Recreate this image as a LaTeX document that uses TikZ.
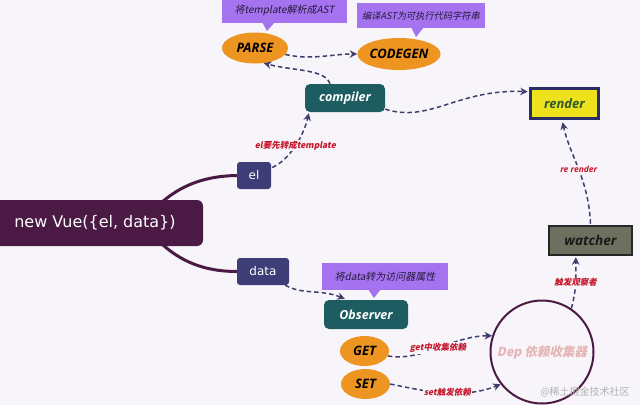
\documentclass[tikz,border=0pt]{standalone}
\usepackage{fontspec}
\setmainfont{Open Sans}
\newfontfamily\cjk[FakeSlant=0.2]{Noto Sans CJK SC}
\newfontfamily\cjkup{Noto Sans CJK SC}
\newfontfamily\vuefont{DejaVu Sans}
\usetikzlibrary{arrows.meta,shapes.geometric,calc}
\definecolor{bgc}{HTML}{F8F5FA}
\definecolor{plum}{HTML}{4A1A44}
\definecolor{slate}{HTML}{3D3D78}
\definecolor{tealc}{HTML}{1D5C60}
\definecolor{orangec}{HTML}{EE9420}
\definecolor{callc}{HTML}{A673F0}
\definecolor{yellowc}{HTML}{EDE21C}
\definecolor{navyc}{HTML}{2B2D66}
\definecolor{watchc}{HTML}{6E705F}
\definecolor{arrowc}{HTML}{3B3D6B}
\definecolor{redc}{HTML}{C4162A}
\definecolor{depc}{HTML}{E6B5B5}
\definecolor{greenc}{HTML}{2F5A2A}
\definecolor{calltext}{HTML}{221A38}
\begin{document}
\begin{tikzpicture}[x=1pt,y=-1pt,
  tag/.style={rectangle, rounded corners=3pt, fill=slate, text=white, inner sep=0pt,
    font=\vuefont\fontsize{12}{14}\selectfont, minimum height=27pt},
  pill/.style={rectangle, rounded corners=5pt, fill=tealc, text=white, inner sep=0pt,
    font=\bfseries\itshape\fontsize{12.5}{14}\selectfont},
  ell/.style={ellipse, fill=orangec, text=black, inner sep=0pt,
    font=\bfseries\itshape\fontsize{13}{15}\selectfont},
  callbox/.style={rectangle, fill=callc, text=calltext, inner sep=0pt,
    font=\cjk\fontsize{10}{12}\selectfont},
  lbl/.style={fill=bgc, inner sep=1pt, text=redc, font=\cjk\bfseries\fontsize{8.5}{10}\selectfont},
  darrow/.style={draw=arrowc, line width=1.5pt, dash pattern=on 4.5pt off 3pt,
    -{Stealth[length=7.5pt,width=7.5pt]}},
  branch/.style={draw=plum, line width=3pt}
]
\useasboundingbox[fill=bgc] (0,0) rectangle (640,405);

% main node
\node[rectangle, rounded corners=6pt, fill=plum, text=white, inner sep=0pt,
  minimum width=213pt, minimum height=46pt] (vue) at (96.5,223) {};
\node[text=white, font=\vuefont\fontsize{16}{18}\selectfont, inner sep=0pt] (vuetxt) at (95,223) {new Vue(\{el, data\})};

\node[tag, minimum width=34pt] (el) at (254,175.5) {el};
\node[tag, minimum width=52pt] (data) at (263,271.5) {data};

\draw[branch] ($(vue.north west)+(168,6)$) .. controls (180,185) and (205,176) .. (el.west);
\draw[branch] ($(vue.south west)+(168,-6)$) .. controls (180,262) and (205,271.5) .. (data.west);

% compiler part
\node[pill, minimum width=80pt, minimum height=28pt] (compiler) at (345,98) {compiler};
\node[ell, minimum width=66pt, minimum height=31pt] (parse) at (255,48) {PARSE};
\node[ell, minimum width=82pt, minimum height=32pt] (codegen) at (399,54) {CODEGEN};

\node[callbox, minimum width=125pt, minimum height=25pt] (c1) at (284.5,10.5) {将template解析成AST};
\fill[callc] (262,22) -- (275,22) -- (267,31) -- cycle;
\node[callbox, minimum width=128pt, minimum height=25pt, font=\cjk\fontsize{9.2}{11}\selectfont] (c2) at (421,15.5) {编译AST为可执行代码字符串};
\fill[callc] (411,27) -- (424,27) -- (416,37) -- cycle;

\node[rectangle, fill=yellowc, draw=navyc, line width=3.5pt, text=greenc, inner sep=0pt,
  minimum width=68pt, minimum height=30pt,
  font=\bfseries\itshape\fontsize{13}{15}\selectfont] (render) at (564.5,103.5) {render};
\node[rectangle, fill=watchc, draw=black!85, line width=2.5pt, text=black!90, inner sep=0pt,
  minimum width=83pt, minimum height=29pt,
  font=\bfseries\itshape\fontsize{13.5}{15}\selectfont] (watcher) at (590.5,240.5) {watcher};

\node[circle, draw=plum, line width=2pt, minimum size=103pt, inner sep=0pt,
  text=depc, font=\cjk\bfseries\fontsize{12.5}{14}\selectfont] (dep) at (542,352) {Dep 依赖收集器};

% observer part
\node[pill, minimum width=84pt, minimum height=29pt] (observer) at (366,314.5) {Observer};
\node[callbox, minimum width=126pt, minimum height=27pt] (c3) at (385,276.5) {将data转为访问器属性};
\fill[callc] (368,289) -- (381,289) -- (374,298) -- cycle;
\node[ell, minimum width=49pt, minimum height=30pt] (get) at (364.5,351) {GET};
\node[ell, minimum width=49pt, minimum height=30pt] (set) at (365.5,384) {SET};

% arrows
\draw[darrow] ($(compiler.north)+(-15,0)$) .. controls +(-5,-15) and +(30,8) .. (parse.-60);
\draw[darrow] (parse.-12) .. controls +(25,6) and +(-25,0) .. (codegen.west);
\draw[darrow] ($(el.east)+(1,-8)$) .. controls +(18,-8) and +(-5,22) .. ($(compiler.south west)+(4,1)$)
  node[lbl, pos=0.5] (l1) {el要先转成template};
\draw[darrow] ($(compiler.south east)+(0,-3)$) .. controls +(45,14) and +(-70,-3) .. ($(render.north west)+(-1,5)$);
\draw[darrow] ($(watcher.north)+(0,-1)$) .. controls +(-2,-45) and +(8,35) .. ($(render.south)+(-2,2)$)
  node[lbl, pos=0.5, font=\bfseries\itshape\fontsize{8.5}{10}\selectfont] (l2) {re render};
\draw[darrow] (dep.56) .. controls +(6,-22) and +(0,15) .. ($(watcher.south west)+(28,1)$)
  node[lbl, pos=0.45] (l3) {触发观察者};
\draw[darrow] ($(data.south east)+(-4,0)$) .. controls +(18,10) and +(-25,-10) .. ($(observer.north west)+(21,-1)$);
\draw[darrow] (get.-12) .. controls +(35,6) and +(-40,0) .. (dep.162)
  node[lbl, pos=0.5] (l4) {get中收集依赖};
\draw[darrow] (set.east) .. controls +(30,6) and +(-40,16) .. (dep.218)
  node[lbl, pos=0.55] (l5) {set触发依赖};

\node[text=black!30, font=\cjkup\fontsize{10}{12}\selectfont, inner sep=0pt] (wm) at (585,392) {@稀土掘金技术社区};
\end{tikzpicture}
\end{document}
